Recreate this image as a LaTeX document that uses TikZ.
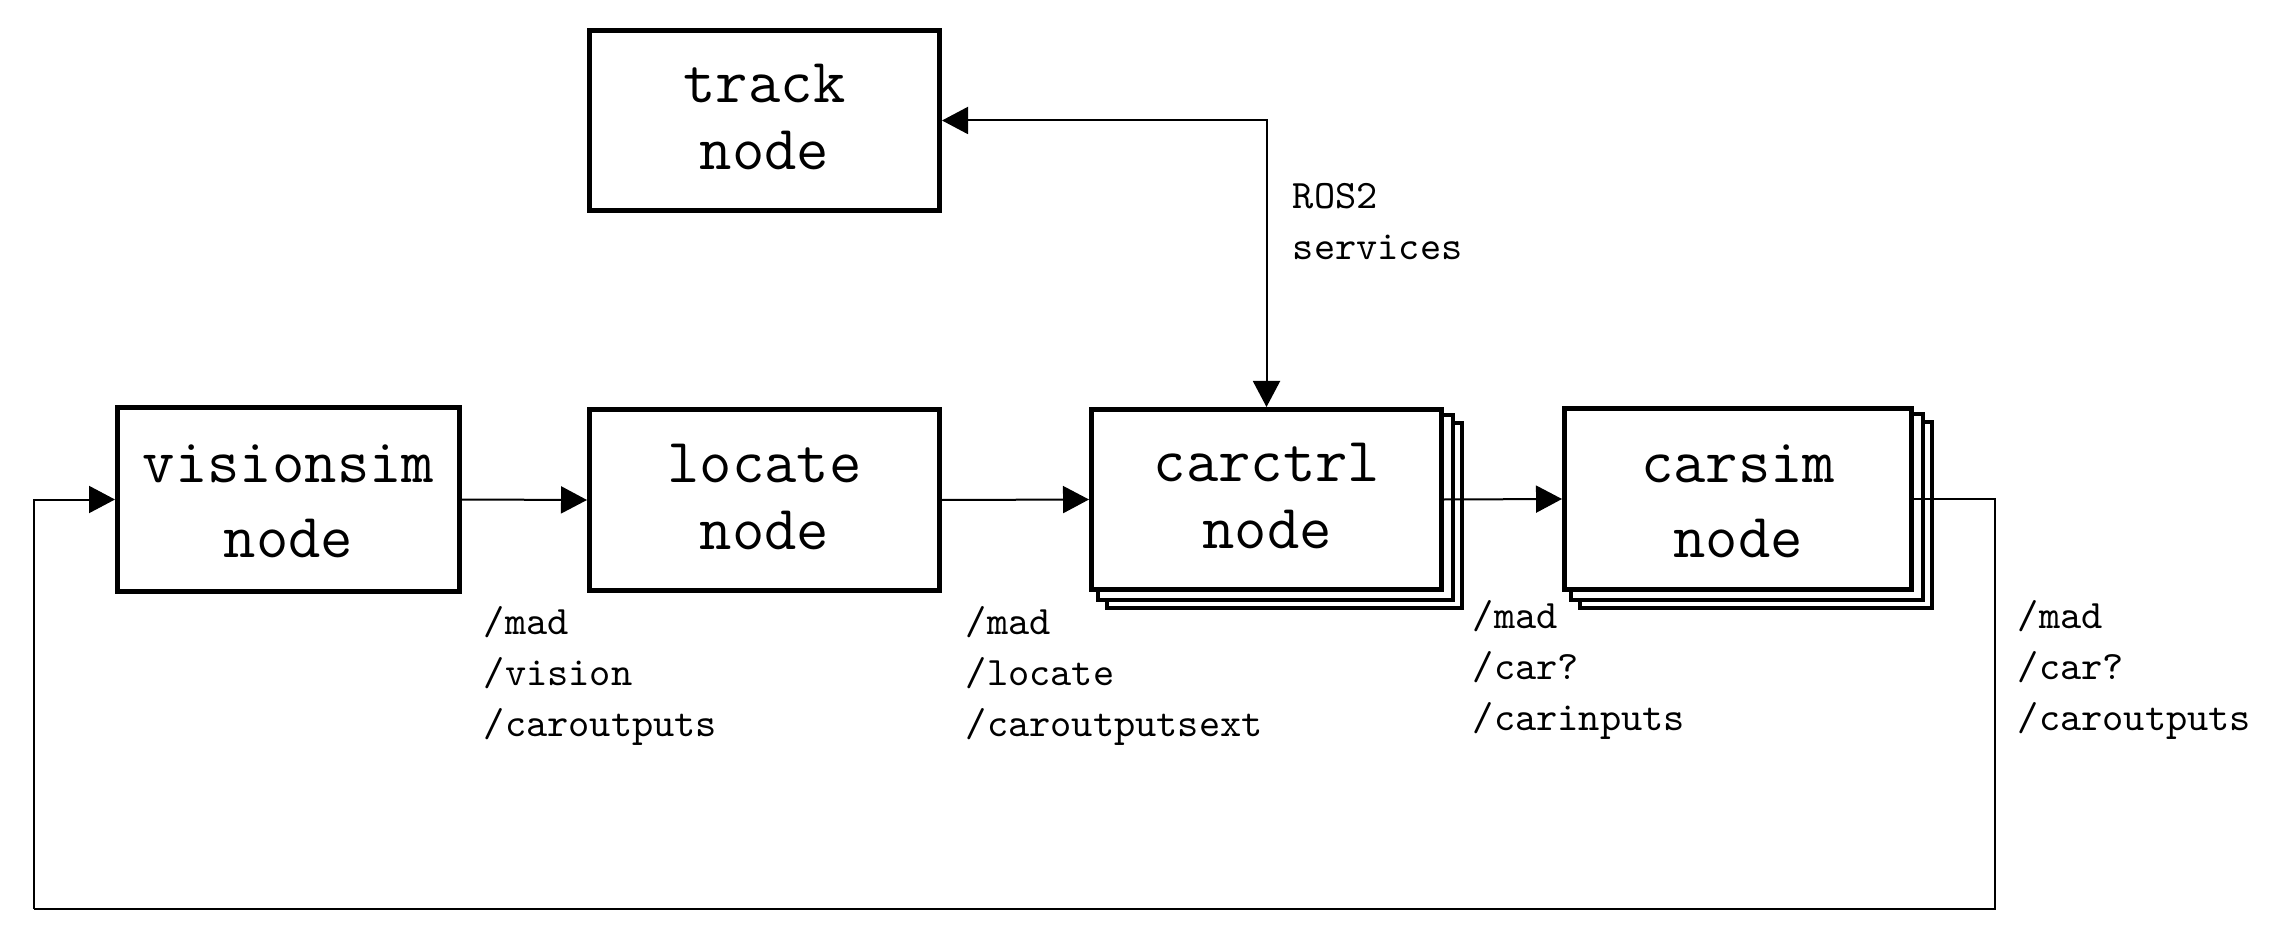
\documentclass[tikz,border=0pt]{standalone}
\usetikzlibrary{arrows.meta,backgrounds}
\begin{document}
\begin{tikzpicture}[x=0.25pt,y=-0.25pt,
  box/.style={draw, fill=white, line width=1.25pt, minimum width=87.5pt, minimum height=45.25pt, inner sep=0pt},
  shad/.style={draw, fill=white, line width=1pt},
  big/.style={font=\fontsize{15.7}{16.75}\selectfont\ttfamily, align=center, inner sep=0pt, anchor=base},
  lab/.style={font=\fontsize{10.1}{12.75}\selectfont\ttfamily, align=left, inner sep=0pt, anchor=base west},
  conn/.style={line width=0.5pt, -{Triangle[length=6.5pt,width=6.75pt]}},
  conn2/.style={line width=0.5pt, {Triangle[length=6.5pt,width=6.75pt]}-{Triangle[length=6.5pt,width=6.75pt]}},
  plain/.style={line width=0.5pt}
]
\useasboundingbox (0,0) rectangle (2288,951);

% boxes
\node[box, minimum width=85.5pt, minimum height=46pt] (vis) at (288.5,499.5) {};
\node[box] (loc) at (764.5,500) {};
\node[box, minimum height=45pt] (ctrl) at (1266.5,499.5) {};
\node[box, minimum width=86.75pt] (sim) at (1738,499) {};
\node[box, minimum height=45pt] (track) at (764.5,120.5) {};

% stacked shadows
\begin{scope}[on background layer]
  \foreach \n in {ctrl,sim} {
    \draw[shad] ([shift={(18,16)}]\n.south west) rectangle ([shift={(18,16)}]\n.north east);
    \draw[shad] ([shift={(9,8)}]\n.south west) rectangle ([shift={(9,8)}]\n.north east);
  }
\end{scope}

% box texts (anchor = baseline of last line)
\node[big] (vist) at (288.5,557) {visionsim\\[2pt]node};
\node[big] (loct) at (764.5,549) {locate\\node};
\node[big] (ctrlt) at (1267,548) {carctrl\\node};
\node[big] (simt) at (1738,557) {carsim\\[2pt]node};
\node[big] (trackt) at (764.5,170) {track\\node};

% connectors
\draw[conn] (vis.east) -- (loc.west);
\draw[conn] (loc.west -| loc.east) -- (ctrl.west);
\draw[conn] (ctrl.east) -- (sim.west);
\draw[conn2] (track.east) -| (ctrl.north);
\coordinate (c1) at (1995,909);
\coordinate (c2) at (34,909);
\draw[plain] (sim.east) -| (c1) -- (c2);
\draw[conn] (c2) |- (vis.west);

% labels (anchor = baseline of last line)
\node[lab] (l1) at (483,736) {/mad\\/vision\\/caroutputs};
\node[lab] (l2) at (965,736) {/mad\\/locate\\/caroutputsext};
\node[lab] (l3) at (1472,730) {/mad\\/car?\\/carinputs};
\node[lab] (l4) at (2017,730) {/mad\\/car?\\/caroutputs};
\node[lab] (ros) at (1292,260) {ROS2\\services};
\end{tikzpicture}
\end{document}
